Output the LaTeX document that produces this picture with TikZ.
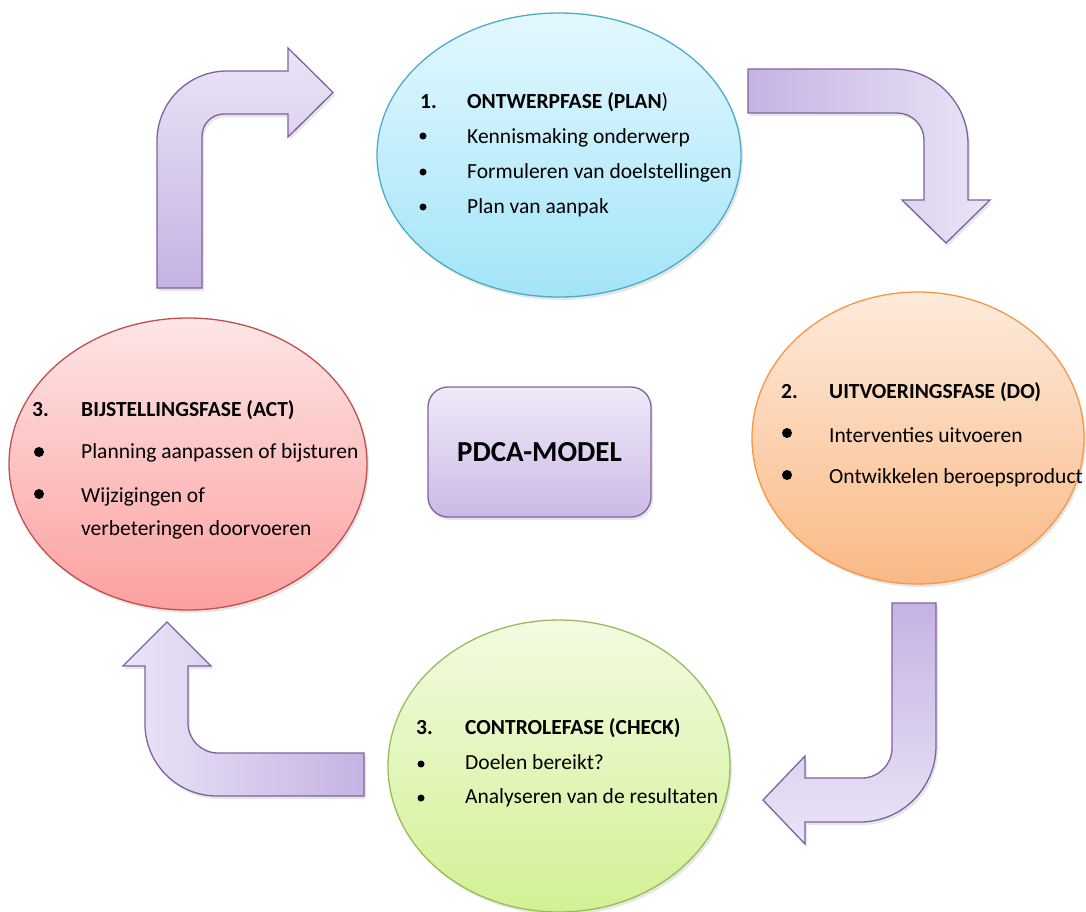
\documentclass[tikz,border=0pt]{standalone}
\usepackage{fontspec}
\setmainfont{Carlito}
\usetikzlibrary{shapes.geometric,calc,shadows}
\definecolor{arrdark}{HTML}{C5B3E4}
\definecolor{arrlight}{HTML}{EBE5F6}
\definecolor{arrline}{HTML}{7E62A0}
\definecolor{bluetop}{HTML}{E3F8FE}
\definecolor{bluebot}{HTML}{A3E4F8}
\definecolor{blueline}{HTML}{4BACC6}
\definecolor{orgtop}{HTML}{FDEBDC}
\definecolor{orgbot}{HTML}{FAB985}
\definecolor{orgline}{HTML}{F79646}
\definecolor{grntop}{HTML}{F2FBE1}
\definecolor{grnbot}{HTML}{D2F194}
\definecolor{grnline}{HTML}{9BBB59}
\definecolor{redtop}{HTML}{FEE5E5}
\definecolor{redbot}{HTML}{FCA0A0}
\definecolor{redline}{HTML}{C0504D}
\definecolor{boxtop}{HTML}{F0EAF8}
\definecolor{boxbot}{HTML}{CBBAE6}
\tikzset{
  phase/.style={ellipse, draw, line width=1.3pt, inner sep=0pt,
    drop shadow={opacity=0.2, shadow xshift=2pt, shadow yshift=-3pt}},
  bigarrow/.style={draw=arrline, line width=1.3pt, line join=miter,
    drop shadow={opacity=0.2, shadow xshift=2pt, shadow yshift=-3pt}},
  txt/.style={anchor=base west, inner sep=0pt, font=\fontsize{21.5}{25}\selectfont},
  ttl/.style={txt, font=\fontsize{21.5}{25}\selectfont\bfseries},
  smallbul/.style={fill=black, circle, inner sep=0pt, minimum size=7pt},
  bigbul/.style={fill=black, circle, inner sep=0pt, minimum size=10pt},
}
\begin{document}
\begin{tikzpicture}[x=1pt,y=-1pt]
\useasboundingbox (0,0) rectangle (1086,911);
\clip (0,0) rectangle (1086,911);

% ---- bent arrows ----
% arrow 1: up then right
\path[bigarrow, top color=arrlight, bottom color=arrdark]
  (157,288) -- (157,141)
  .. controls ($(157,141)!0.5523!(157,71)$) and ($(227,71)!0.5523!(157,71)$) .. (227,71)
  -- (288,71) -- (288,48) -- (333,92.5) -- (288,137) -- (288,114) -- (224,114)
  .. controls ($(224,114)!0.5523!(202,114)$) and ($(202,136)!0.5523!(202,114)$) .. (202,136)
  -- (202,288) -- cycle;
% arrow 2: right then down
\path[bigarrow, left color=arrdark, right color=arrlight]
  (748,69) -- (893,69)
  .. controls ($(893,69)!0.5523!(968,69)$) and ($(968,144)!0.5523!(968,69)$) .. (968,144)
  -- (968,200) -- (990,200) -- (946,243) -- (902,200) -- (924,200) -- (924,140)
  .. controls ($(924,140)!0.5523!(924,113)$) and ($(897,113)!0.5523!(924,113)$) .. (897,113)
  -- (748,113) -- cycle;
% arrow 3: down then left
\path[bigarrow, top color=arrdark, bottom color=arrlight]
  (892,603) -- (936,603) -- (936,746)
  .. controls ($(936,746)!0.5523!(936,822)$) and ($(860,822)!0.5523!(936,822)$) .. (860,822)
  -- (805,822) -- (805,844) -- (763,800) -- (805,756) -- (805,778) -- (862,778)
  .. controls ($(862,778)!0.5523!(892,778)$) and ($(892,748)!0.5523!(892,778)$) .. (892,748)
  -- cycle;
% arrow 4: left then up
\path[bigarrow, left color=arrlight, right color=arrdark]
  (364,753) -- (218,753)
  .. controls ($(218,753)!0.5523!(188,753)$) and ($(188,723)!0.5523!(188,753)$) .. (188,723)
  -- (188,666) -- (211,666) -- (167,622) -- (123,666) -- (145,666) -- (145,724)
  .. controls ($(145,724)!0.5523!(145,796)$) and ($(217,796)!0.5523!(145,796)$) .. (217,796)
  -- (364,796) -- cycle;

% ---- phase ellipses ----
\node[phase, draw=blueline, top color=bluetop, bottom color=bluebot,
  minimum width=364pt, minimum height=284pt] (plan) at (559,155) {};
\node[phase, draw=orgline, top color=orgtop, bottom color=orgbot,
  minimum width=332pt, minimum height=292pt] (do) at (918,438) {};
\node[phase, draw=grnline, top color=grntop, bottom color=grnbot,
  minimum width=342pt, minimum height=292pt] (check) at (559,766) {};
\node[phase, draw=redline, top color=redtop, bottom color=redbot,
  minimum width=358pt, minimum height=292pt] (act) at (188,464) {};

% ---- centre box ----
\node[draw=arrline, line width=1.3pt, rounded corners=20pt, top color=boxtop, bottom color=boxbot,
  minimum width=223pt, minimum height=130pt,
  drop shadow={opacity=0.2, shadow xshift=2pt, shadow yshift=-3pt},
  font=\fontsize{29}{33}\selectfont\bfseries] (model) at (539.5,452) {PDCA-MODEL};

% ---- texts: PLAN ----
\node[ttl] (planN) at (420,108) {1.};
\node[ttl] (planT) at (467,108) {ONTWERPFASE (PLAN\textmd{)}};
\node[smallbul] (planB1) at (423,136) {};
\node[smallbul] (planB2) at (423,172) {};
\node[smallbul] (planB3) at (423,207) {};
\node[txt] (plan1) at (467,143) {Kennismaking onderwerp};
\node[txt] (plan2) at (467,178) {Formuleren van doelstellingen};
\node[txt] (plan3) at (467,213) {Plan van aanpak};

% ---- texts: DO ----
\node[ttl] (doN) at (781,398) {2.};
\node[ttl] (doT) at (829,398) {UITVOERINGSFASE (DO)};
\node[bigbul] (doB1) at (787,433) {};
\node[bigbul] (doB2) at (787,475) {};
\node[txt] (do1) at (829,442) {Interventies uitvoeren};
\node[txt] (do2) at (829,483) {Ontwikkelen beroepsproduct};

% ---- texts: CHECK ----
\node[ttl] (checkN) at (416,734) {3.};
\node[ttl] (checkT) at (465,734) {CONTROLEFASE (CHECK)};
\node[smallbul] (checkB1) at (421,764) {};
\node[smallbul] (checkB2) at (421,798) {};
\node[txt] (check1) at (465,769) {Doelen bereikt?};
\node[txt] (check2) at (465,803) {Analyseren van de resultaten};

% ---- texts: ACT ----
\node[ttl] (actN) at (32,416) {3.};
\node[ttl] (actT) at (81,416) {BIJSTELLINGSFASE (ACT)};
\node[bigbul] (actB1) at (39,452) {};
\node[bigbul] (actB2) at (39,494) {};
\node[txt] (act1) at (81,458) {Planning aanpassen of bijsturen};
\node[txt] (act2) at (81,502) {Wijzigingen of};
\node[txt] (act3) at (81,535) {verbeteringen doorvoeren};
\end{tikzpicture}
\end{document}
